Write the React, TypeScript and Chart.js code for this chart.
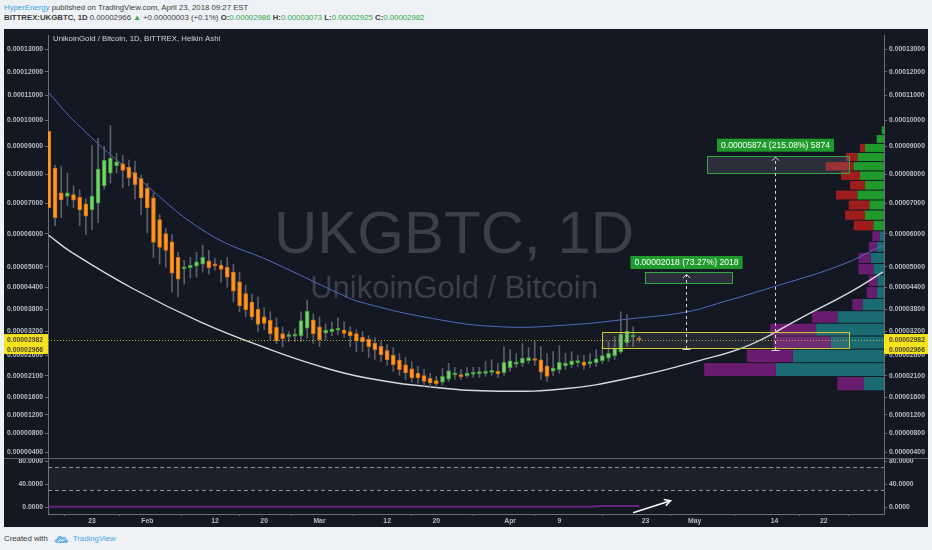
import React, { useEffect, useRef } from "react";
import { Chart, registerables, LinearScale } from "chart.js";

Chart.register(...registerables);

// ---------------- data (prices in satoshi, 1e-8 BTC) ----------------
// day index: 2018-01-01 = 0; first Heikin Ashi candle = 2018-01-16
const FIRST_DAY = 15;

const OPEN = [
  9572, 8212, 7345, 7228, 7288, 7194, 6977, 6771, 7000, 7584, 8034, 8300, 8368, 8247, 8052, 7839, 7505, 7177, 6456, 6012,
  5750, 5280, 4941, 4970, 5014, 5073, 5176, 5073, 5052, 4985, 4839, 4561, 4229, 3994, 3791, 3590, 3497, 3314, 3146, 3069,
  3082, 3087, 3288, 3510, 3327, 3159, 3197, 3236, 3241, 3197, 3146, 3051, 2997, 2906, 2821, 2715, 2599, 2481, 2362, 2263,
  2156, 2101, 2037, 1983, 1947, 2016, 2118, 2125, 2101, 2132, 2148, 2156, 2179, 2203, 2172, 2295, 2377, 2403, 2464, 2503,
  2486, 2336, 2208, 2244, 2333, 2367, 2415, 2430, 2389, 2415, 2464, 2528, 2589, 2680, 2906, 3059, 2986,
];
const HIGH = [
  9572, 8318, 8283, 8034, 7584, 7447, 7144, 9045, 9307, 9009, 9801, 8751, 8679, 8498, 8462, 7964, 7686, 7345, 6617, 6169,
  5981, 5430, 5191, 5280, 5430, 5643, 5491, 5250, 5191, 5280, 5073, 4839, 4467, 4215, 4132, 3831, 3723, 3563, 3327, 3197,
  3275, 3723, 4049, 3670, 3590, 3405, 3457, 3563, 3457, 3327, 3249, 3197, 3095, 3043, 2941, 2865, 2790, 2641, 2542, 2444,
  2324, 2251, 2156, 2085, 2275, 2396, 2300, 2251, 2300, 2300, 2300, 2444, 2493, 2396, 2815, 2740, 2641, 2891, 2790, 2941,
  2815, 2641, 2690, 2840, 2641, 2690, 2592, 2592, 2641, 2740, 2815, 2941, 3069, 3723, 3643, 3327, 3073,
];
const LOW = [
  6846, 6264, 6520, 6912, 6846, 6264, 5981, 6138, 6359, 7481, 7686, 8034, 7512, 7584, 7144, 6617, 6043, 5280, 5073, 4985,
  4270, 4132, 4496, 4667, 4693, 4839, 4782, 4897, 4552, 4411, 3994, 3723, 3590, 3510, 3197, 3249, 2992, 2891, 2815, 2941,
  2941, 2941, 3043, 2891, 2815, 2992, 3095, 3120, 3043, 2815, 2690, 2690, 2542, 2493, 2444, 2348, 2203, 2108, 2013, 1943,
  1920, 1850, 1827, 1827, 1873, 1966, 2013, 2013, 2061, 2061, 2061, 2085, 2108, 2061, 2108, 2203, 2300, 2324, 2396, 2348,
  2013, 1966, 2108, 2156, 2251, 2300, 2324, 2251, 2300, 2324, 2396, 2444, 2493, 2641, 2815, 2815, 2925,
];
const CLOSE = [
  6846, 6520, 7110, 7345, 7100, 6771, 6569, 7234, 8176, 8487, 8570, 8436, 8130, 7860, 7628, 7177, 6846, 5734, 5582, 5491,
  4810, 4638, 5000, 5043, 5146, 5280, 4970, 5029, 4918, 4693, 4298, 3886, 3777, 3590, 3387, 3413, 3146, 2967, 3018, 3095,
  3095, 3493, 3745, 3146, 2992, 3241, 3267, 3275, 3153, 3087, 2959, 2941, 2815, 2733, 2609, 2486, 2364, 2245, 2163, 2044,
  2044, 1966, 1927, 1913, 2085, 2219, 2139, 2077, 2163, 2163, 2163, 2203, 2227, 2139, 2420, 2461, 2427, 2525, 2542, 2469,
  2186, 2085, 2283, 2420, 2403, 2461, 2444, 2348, 2444, 2510, 2592, 2648, 2773, 3138, 3215, 3069, 2982,
];

// lower pane oscillator
const OSC = [
  1, 1, 1, 1, 1, 1, 1, 1, 1, 1, 1, 1, 1, 1, 1, 1, 1, 1, 1, 1,
  1, 1, 1, 1, 1, 1, 1, 1, 1, 1, 1, 1, 1, 1, 1, 1, 1, 1, 1, 1,
  1, 1, 1, 1, 1, 1, 1, 1, 1, 1, 1, 1, 1, 1, 1, 1, 1, 1, 1, 1,
  1, 1, 1, 1, 1, 1, 1, 1, 1, 1, 1, 1, 1, 1, 1, 1, 1, 1, 1, 1,
  1, 1, 1, 1, 1, 1, 1, 1, 1, 2, 2.5, 2.5, 2.5, 2.5, 2.5, 2.5, 2.5,
];
const OSC_TICKS = [0, 40, 80];
const OSC_BANDS = [70, 30];

const TIME_TICKS = [22, 31, 42, 50, 59, 70, 78, 90, 98, 112, 120, 133, 141];
const TIME_LABELS = ["23", "Feb", "12", "20", "Mar", "12", "20", "Apr", "9", "23", "May", "14", "22"];
const PRICE_TICKS = [13000, 12000, 11000, 10000, 9000, 8000, 7000, 6000, 5000, 4400, 3800, 3200, 2600, 2100, 1600, 1200, 800, 400];

// drawn arcs (day, price)
const BLUE_ARC_X = [14.96, 19.5, 29.8, 40.65, 51.4, 62.3, 65.6, 77.4, 88.3, 99.2, 110, 118.7, 124.6, 132.7, 143.6, 150.6];
const BLUE_ARC_Y = [11114, 9878, 7801, 6043, 5131, 4223, 3994, 3545, 3327, 3371, 3545, 3723, 3994, 4411, 5035, 5643];
const WHITE_ARC_X = [14.96, 18.7, 28.7, 39.6, 50.4, 59.1, 66.7, 77.5, 88.3, 99.2, 110, 120.9, 129, 137.1, 145.3, 150.6];
const WHITE_ARC_Y = [5960, 5430, 4363, 3457, 2773, 2324, 2044, 1827, 1734, 1797, 2061, 2470, 2858, 3545, 4270, 4839];

// volume profile rows (price edges) with up / down volume
const VP_EDGES = [1745, 2080, 2415, 2750, 3085, 3420, 3755, 4090, 4425, 4760, 5095, 5430, 5765, 6100, 6435, 6770, 7105, 7440, 7775, 8110, 8445, 8780, 9115, 9450, 9785];
const VP_UP = [200, 1083, 913, 533, 680, 467, 217, 73, 67, 107, 133, 73, 40, 107, 190, 147, 267, 190, 240, 307, 267, 190, 73, 23];
const VP_DOWN = [267, 717, 460, 574, 460, 256, 100, 100, 86, 150, 124, 80, 77, 196, 200, 206, 213, 150, 190, 276, 113, 50, 0, 0];
const VALUE_AREA_TOP = 6100;
const VP_WIDTH_PCT = 21.5;

const LAST_PRICE = 2982;
const CLOSE_PRICE = 2966;

// drawings: [dayFrom, dayTo, priceLow, priceHigh]
const YELLOW_BOX = [105.0, 145.1, 2758, 3179];
const GREEN_BOX_1 = [111.9, 126.1, 4524, 4839];
const GREEN_BOX_2 = [122.05, 145.1, 8034, 8653];
const MEASURE_DAYS = [118.6, 133.1];
const MEASURE_FROM = [2754, 2731];
const MEASURE_TO = [4772, 8605];
const MEASURE_LABELS = ["0.00002018 (73.27%) 2018", "0.00005874 (215.08%) 5874"];
const OSC_ARROW_X = [110.0, 116.1];
const OSC_ARROW_Y = [-9.4, 11.5];

// ---------------- style ----------------
const BG = "#141823";
const AXIS = "#6a6e79";
const TICK_TEXT = "#b9bcc5";
const AX_FONT = { family: "'Liberation Sans', Arial, sans-serif", size: 6.8, weight: "bold" as const };
const X_MIN = 14.85;
const X_MAX = 150.8;
const PRICE_MIN = 272;
const PRICE_MAX = 13641;
const OSC_MIN = -11.6;
const OSC_MAX = 85.2;

// price scale used by the chart: log of (price + offset)
const OFFSET = 10200;
class OffsetLogScale extends LinearScale {
  static id = "offsetlog";
  static defaults = (LinearScale as any).defaults;
  _lmin = 0;
  _lrange = 1;
  configure() {
    super.configure();
    this._lmin = Math.log(this.min + OFFSET);
    this._lrange = Math.log(this.max + OFFSET) - this._lmin;
  }
  getPixelForValue(v: any) {
    if (v === null || v === undefined || isNaN(v)) return NaN;
    return this.getPixelForDecimal((Math.log(v + OFFSET) - this._lmin) / this._lrange);
  }
  getValueForPixel(p: number) {
    return Math.exp(this._lmin + this.getDecimalForPixel(p) * this._lrange) - OFFSET;
  }
}
Chart.register(OffsetLogScale as any);

const fmtPrice = (v: number) => (v / 1e8).toFixed(8);

const priceAxis = (position: "left" | "right", stack: string) => ({
  type: "offsetlog",
  position,
  stack,
  stackWeight: 427,
  min: PRICE_MIN,
  max: PRICE_MAX,
  bounds: "data",
  afterBuildTicks: (s: any) => {
    s.ticks = PRICE_TICKS.map((value) => ({ value }));
  },
  afterFit: (s: any) => {
    s.width = 44;
  },
  ticks: { autoSkip: false, padding: 2, color: TICK_TEXT, font: AX_FONT, callback: (v: any) => fmtPrice(Number(v)) },
  grid: { drawOnChartArea: false, drawTicks: true, tickLength: 3, color: AXIS },
  border: { color: AXIS },
});

const oscAxis = (position: "left" | "right", stack: string) => ({
  type: "linear",
  position,
  stack,
  stackWeight: 56,
  min: OSC_MIN,
  max: OSC_MAX,
  bounds: "data",
  afterBuildTicks: (s: any) => {
    s.ticks = OSC_TICKS.map((value) => ({ value }));
  },
  afterFit: (s: any) => {
    s.width = 44;
  },
  ticks: { autoSkip: false, padding: 2, color: TICK_TEXT, font: AX_FONT, callback: (v: any) => Number(v).toFixed(4) },
  grid: { drawOnChartArea: false, drawTicks: true, tickLength: 3, color: AXIS },
  border: { color: AXIS },
});

const overlayPlugin = {
  id: "tvOverlay",
  beforeDraw(chart: any) {
    const { ctx, width, height } = chart;
    ctx.save();
    ctx.fillStyle = BG;
    ctx.fillRect(0, 0, width, height);
    ctx.restore();
  },
  beforeDatasetsDraw(chart: any) {
    const { ctx, chartArea } = chart;
    const y = chart.scales.y;
    const yo = chart.scales.yInd;
    const xv = chart.scales.xv;
    ctx.save();
    // watermark
    ctx.fillStyle = "#3b3f4a";
    ctx.textAlign = "center";
    ctx.textBaseline = "alphabetic";
    ctx.font = "60px 'Liberation Sans', Arial, sans-serif";
    ctx.fillText("UKGBTC, 1D", 450, 224);
    ctx.font = "31px 'Liberation Sans', Arial, sans-serif";
    ctx.fillText("UnikoinGold / Bitcoin", 450, 269);
    // title
    ctx.fillStyle = "#d1d4dc";
    ctx.textAlign = "left";
    ctx.textBaseline = "middle";
    ctx.font = "7.8px 'Liberation Sans', Arial, sans-serif";
    ctx.fillText("UnikoinGold / Bitcoin, 1D, BITTREX, Heikin Ashi", chartArea.left + 5, 10);
    // volume profile
    for (let i = 0; i < VP_UP.length; i++) {
      const top = y.getPixelForValue(VP_EDGES[i + 1]);
      const bot = y.getPixelForValue(VP_EDGES[i]);
      const va = VP_EDGES[i + 1] <= VALUE_AREA_TOP;
      const xr = xv.getPixelForValue(0);
      const xu = xv.getPixelForValue(VP_UP[i]);
      const xd = xv.getPixelForValue(VP_UP[i] + VP_DOWN[i]);
      ctx.fillStyle = va ? "#1b6b73" : "#1f9a2b";
      ctx.fillRect(xu, top + 0.5, xr - xu, bot - top - 1);
      ctx.fillStyle = va ? "#6a1d70" : "#a01d1d";
      ctx.fillRect(xd, top + 0.5, xu - xd, bot - top - 1);
    }
    // oscillator band
    const b1 = yo.getPixelForValue(OSC_BANDS[0]);
    const b2 = yo.getPixelForValue(OSC_BANDS[1]);
    ctx.fillStyle = "rgba(255,255,255,0.045)";
    ctx.fillRect(chartArea.left, b1, chartArea.right - chartArea.left, b2 - b1);
    ctx.strokeStyle = "#8c8f98";
    ctx.lineWidth = 1;
    ctx.setLineDash([4, 3]);
    for (const b of [b1, b2]) {
      ctx.beginPath();
      ctx.moveTo(chartArea.left, Math.round(b) + 0.5);
      ctx.lineTo(chartArea.right, Math.round(b) + 0.5);
      ctx.stroke();
    }
    ctx.restore();
  },
  afterDatasetsDraw(chart: any) {
    const { ctx, chartArea } = chart;
    const x = chart.scales.x;
    const y = chart.scales.y;
    const yo = chart.scales.yInd;
    ctx.save();
    // last price dotted line
    const py = Math.round(y.getPixelForValue(LAST_PRICE)) + 0.5;
    ctx.strokeStyle = "rgba(214,196,40,0.85)";
    ctx.lineWidth = 1;
    ctx.setLineDash([1, 2]);
    ctx.beginPath();
    ctx.moveTo(chartArea.left, py);
    ctx.lineTo(chartArea.right, py);
    ctx.stroke();
    ctx.setLineDash([]);

    const box = (b: number[], stroke: string, fill: string) => {
      const x0 = x.getPixelForValue(b[0]);
      const x1 = x.getPixelForValue(b[1]);
      const y0 = y.getPixelForValue(b[3]);
      const y1 = y.getPixelForValue(b[2]);
      ctx.fillStyle = fill;
      ctx.fillRect(x0, y0, x1 - x0, y1 - y0);
      ctx.strokeStyle = stroke;
      ctx.lineWidth = 1;
      ctx.strokeRect(Math.round(x0) + 0.5, Math.round(y0) + 0.5, Math.round(x1 - x0), Math.round(y1 - y0));
    };
    box(YELLOW_BOX, "#cfc82a", "rgba(130,133,144,0.16)");
    box(GREEN_BOX_1, "#35a640", "rgba(130,133,144,0.22)");
    box(GREEN_BOX_2, "#35a640", "rgba(130,133,144,0.22)");

    // price range measures
    for (let i = 0; i < MEASURE_DAYS.length; i++) {
      const mx = Math.round(x.getPixelForValue(MEASURE_DAYS[i])) + 0.5;
      const yb = y.getPixelForValue(MEASURE_FROM[i]);
      const yt = y.getPixelForValue(MEASURE_TO[i]);
      ctx.strokeStyle = "#d6d8de";
      ctx.lineWidth = 1;
      ctx.setLineDash([3, 3]);
      ctx.beginPath();
      ctx.moveTo(mx, yb);
      ctx.lineTo(mx, yt);
      ctx.stroke();
      ctx.setLineDash([]);
      ctx.beginPath();
      ctx.moveTo(mx - 3.5, yt + 3.5);
      ctx.lineTo(mx, yt);
      ctx.lineTo(mx + 3.5, yt + 3.5);
      ctx.stroke();
      ctx.beginPath();
      ctx.moveTo(mx - 4, Math.round(yb) + 0.5);
      ctx.lineTo(mx + 4, Math.round(yb) + 0.5);
      ctx.stroke();
      // label
      ctx.font = "8.6px 'Liberation Sans', Arial, sans-serif";
      const tw = ctx.measureText(MEASURE_LABELS[i]).width;
      const bw = tw + 8;
      const bh = 13;
      const bx = mx - bw / 2;
      const by = yt - 18.5;
      ctx.fillStyle = "#1f9b2d";
      ctx.fillRect(bx, by, bw, bh);
      ctx.fillStyle = "#ffffff";
      ctx.textAlign = "center";
      ctx.textBaseline = "middle";
      ctx.fillText(MEASURE_LABELS[i], mx, by + bh / 2 + 0.5);
    }

    // arrow head in the oscillator pane
    const ax0 = x.getPixelForValue(OSC_ARROW_X[0]);
    const ay0 = yo.getPixelForValue(OSC_ARROW_Y[0]);
    const ax1 = x.getPixelForValue(OSC_ARROW_X[1]);
    const ay1 = yo.getPixelForValue(OSC_ARROW_Y[1]);
    const ang = Math.atan2(ay1 - ay0, ax1 - ax0);
    ctx.strokeStyle = "#ffffff";
    ctx.lineWidth = 1.5;
    ctx.beginPath();
    ctx.moveTo(ax1 - 7 * Math.cos(ang - 0.5), ay1 - 7 * Math.sin(ang - 0.5));
    ctx.lineTo(ax1, ay1);
    ctx.lineTo(ax1 - 7 * Math.cos(ang + 0.5), ay1 - 7 * Math.sin(ang + 0.5));
    ctx.stroke();
    ctx.restore();
  },
  afterDraw(chart: any) {
    const { ctx, width } = chart;
    const y = chart.scales.y;
    const yL = chart.scales.yL;
    const yo = chart.scales.yInd;
    ctx.save();
    // pane separator
    ctx.strokeStyle = "#5d616c";
    ctx.lineWidth = 1;
    ctx.beginPath();
    ctx.moveTo(0, Math.round(yo.top) + 0.5);
    ctx.lineTo(width, Math.round(yo.top) + 0.5);
    ctx.stroke();
    // price labels
    const yc = y.getPixelForValue(LAST_PRICE);
    ctx.fillStyle = "#f3e21d";
    ctx.fillRect(y.left, yc - 6, y.right - y.left, 20);
    ctx.fillRect(yL.left, yc - 6, yL.right - yL.left, 20);
    ctx.fillStyle = "#4a4420";
    ctx.font = "bold 6.8px 'Liberation Sans', Arial, sans-serif";
    ctx.textBaseline = "middle";
    ctx.textAlign = "left";
    ctx.fillText(fmtPrice(LAST_PRICE), y.left + 5, yc);
    ctx.fillText(fmtPrice(CLOSE_PRICE), y.left + 5, yc + 10);
    ctx.textAlign = "right";
    ctx.fillText(fmtPrice(LAST_PRICE), yL.right - 5, yc);
    ctx.fillText(fmtPrice(CLOSE_PRICE), yL.right - 5, yc + 10);
    ctx.restore();
  },
};

function TradingChart() {
  const ref = useRef<HTMLCanvasElement | null>(null);
  useEffect(() => {
    if (!ref.current) return;
    const days = OPEN.map((_, i) => FIRST_DAY + i);
    const isUp = (i: number) => CLOSE[i] >= OPEN[i];
    const vpTotals = VP_UP.map((u, i) => u + VP_DOWN[i]);
    const vpMax = (Math.max(...vpTotals) * 100) / VP_WIDTH_PCT;

    const chart = new Chart(ref.current, {
      type: "line",
      data: {
        datasets: [
          {
            type: "line",
            data: BLUE_ARC_X.map((d, i) => ({ x: d, y: BLUE_ARC_Y[i] })),
            borderColor: "#4d6dbd",
            borderWidth: 1,
            pointRadius: 0,
            tension: 0.45,
            xAxisID: "x",
            yAxisID: "y",
            order: 5,
          },
          {
            type: "line",
            data: WHITE_ARC_X.map((d, i) => ({ x: d, y: WHITE_ARC_Y[i] })),
            borderColor: "#d9dadf",
            borderWidth: 1.4,
            pointRadius: 0,
            tension: 0.45,
            xAxisID: "x",
            yAxisID: "y",
            order: 5,
          },
          {
            type: "bar",
            data: days.map((d, i) => ({ x: d, y: [LOW[i], HIGH[i]] })),
            backgroundColor: "#5a5e6a",
            borderWidth: 0,
            barThickness: 1,
            grouped: false,
            xAxisID: "x",
            yAxisID: "y",
            order: 4,
          },
          {
            type: "bar",
            data: days.map((d, i) => ({ x: d, y: [OPEN[i], CLOSE[i]] })),
            backgroundColor: days.map((_, i) => (isUp(i) ? "#78d36c" : "#fd9828")),
            borderColor: days.map((_, i) => (isUp(i) ? "#3f9a3c" : "#d2700c")),
            borderWidth: 1,
            borderSkipped: false,
            barThickness: 4,
            minBarLength: 2,
            grouped: false,
            xAxisID: "x",
            yAxisID: "y",
            order: 3,
          },
          {
            type: "line",
            data: days.map((d, i) => ({ x: d, y: OSC[i] })),
            borderColor: "#6a2382",
            borderWidth: 2,
            pointRadius: 0,
            xAxisID: "x",
            yAxisID: "yInd",
            order: 2,
          },
          {
            type: "line",
            data: OSC_ARROW_X.map((d, i) => ({ x: d, y: OSC_ARROW_Y[i] })),
            borderColor: "#ffffff",
            borderWidth: 1.5,
            pointRadius: 0,
            xAxisID: "x",
            yAxisID: "yInd",
            order: 1,
          },
        ] as any,
      },
      options: {
        responsive: false,
        animation: false,
        events: [],
        layout: { padding: { top: 2, left: 0, right: 0, bottom: 0 } },
        plugins: { legend: { display: false }, tooltip: { enabled: false }, title: { display: false } },
        scales: {
          x: {
            type: "linear",
            position: "bottom",
            min: X_MIN,
            max: X_MAX,
            offset: false,
            bounds: "data",
            afterBuildTicks: (s: any) => {
              s.ticks = TIME_TICKS.map((value) => ({ value }));
            },
            afterFit: (s: any) => {
              s.height = 13;
            },
            ticks: {
              autoSkip: false,
              maxRotation: 0,
              padding: 1,
              color: TICK_TEXT,
              font: AX_FONT,
              callback: (_v: any, i: number) => TIME_LABELS[i],
            },
            grid: { drawOnChartArea: false, drawTicks: true, tickLength: 2, color: AXIS },
            border: { color: AXIS },
          },
          xv: { type: "linear", display: false, reverse: true, min: 0, max: vpMax },
          yIndL: oscAxis("left", "L"),
          yL: priceAxis("left", "L"),
          y: priceAxis("right", "R"),
          yInd: oscAxis("right", "R"),
        } as any,
      },
      plugins: [overlayPlugin],
    } as any);
    return () => chart.destroy();
  }, []);
  return <canvas ref={ref} width={924} height={498} style={{ display: "block", width: 924, height: 498 }} />;
}

const FONT = "'Liberation Sans', Arial, sans-serif";
const GREEN = "#33a93a";

export default function App() {
  return (
    <div
      style={{
        position: "fixed",
        left: 0,
        top: 0,
        width: 932,
        height: 550,
        background: "#eef1f6",
        fontFamily: FONT,
        overflow: "hidden",
      }}
    >
      <div style={{ position: "absolute", left: 4, top: 2, fontSize: 7.8, lineHeight: "11px", color: "#3b3b3b", whiteSpace: "nowrap" }}>
        <span style={{ color: "#3aa3dc" }}>HyperEnergy</span> published on TradingView.com, April 23, 2018 09:27 EST
      </div>
      <div style={{ position: "absolute", left: 4, top: 11.5, fontSize: 7.8, lineHeight: "11px", color: "#3b3b3b", whiteSpace: "nowrap" }}>
        <b>BITTREX:UKGBTC, 1D</b> 0.00002966 <span style={{ color: GREEN }}>▲</span> +0.00000003 (+0.1%){" "}
        <b>O:</b>
        <span style={{ color: GREEN }}>0.00002986</span> <b>H:</b>
        <span style={{ color: GREEN }}>0.00003073</span> <b>L:</b>
        <span style={{ color: GREEN }}>0.00002925</span> <b>C:</b>
        <span style={{ color: GREEN }}>0.00002982</span>
      </div>
      <div style={{ position: "absolute", left: 4, top: 29 }}>
        <TradingChart />
      </div>
      <div style={{ position: "absolute", left: 4, top: 533, fontSize: 7.8, lineHeight: "12px", color: "#3b3b3b", whiteSpace: "nowrap", display: "flex", alignItems: "center" }}>
        <span>Created with</span>
        <svg width="15" height="10" viewBox="0 0 15 10" style={{ marginLeft: 6, marginRight: 4 }}>
          <path d="M3 9 C0 9 0 5 3 5 C3 2 7 1 8.5 3.5 C10 2 13 3 12.5 5.5 C15 6 15 9 12 9 Z" fill="#6cb6e3" />
          <path d="M4 8 L6.5 5.5 L8.5 7 L11 4.5" stroke="#ffffff" strokeWidth="1" fill="none" />
        </svg>
        <span style={{ color: "#4aa6dc" }}>TradingView</span>
      </div>
    </div>
  );
}
